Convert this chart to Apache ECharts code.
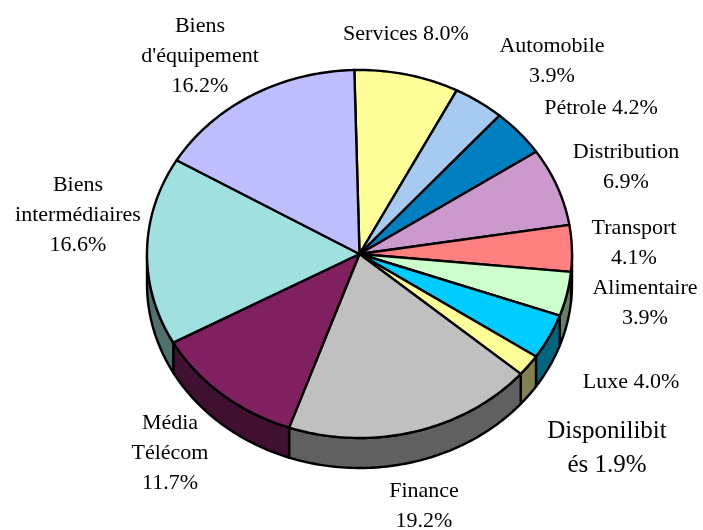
<!DOCTYPE html>
<html>
<head>
<meta charset="utf-8">
<style>
  html, body { margin: 0; padding: 0; background: #fff; }
  #chart { width: 703px; height: 530px; }
</style>
<script src="https://cdn.jsdelivr.net/npm/echarts@6/dist/echarts.min.js"></script>
</head>
<body>
<div id="chart"></div>
<script>
const names = ['Services', 'Automobile', 'Pétrole', 'Distribution', 'Transport', 'Alimentaire', 'Luxe', 'Disponilibités', 'Finance', 'Média Télécom', 'Biens intermédiaires', "Biens d'équipement"]
const values = [8.0, 3.9, 4.2, 6.9, 4.1, 3.9, 4.0, 1.9, 19.2, 11.7, 16.6, 16.2]
const topColors = ['#FFFF99', '#A6CAF0', '#0080C0', '#CC99CC', '#FF8080', '#CCFFCC', '#00CCFF', '#FFFF99', '#C0C0C0', '#802060', '#A0E0E0', '#BFBFFF']
const sideColors = ['#808050', '#536580', '#004060', '#664D66', '#804040', '#668066', '#006680', '#808050', '#606060', '#401030', '#507070', '#606080']
const labelLines = ['Services 8.0%', 'Automobile\n3.9%', 'Pétrole 4.2%', 'Distribution\n6.9%', 'Transport\n4.1%', 'Alimentaire\n3.9%', 'Luxe 4.0%', 'Disponilibit\nés 1.9%', 'Finance\n19.2%', 'Média\nTélécom\n11.7%', 'Biens\nintermédiaires\n16.6%', "Biens\nd'équipement\n16.2%"]

// pie geometry
const cx = 359.5
const cy = 254
const rx = 212.5
const ry = 184
const depth = 30
const startAngle = -1.4

const total = values.reduce((a, b) => a + b, 0)

function sliceRange(index) {
  let before = 0
  for (let i = 0; i < index; i++) before += values[i]
  return [startAngle + before / total * 360, startAngle + (before + values[index]) / total * 360]
}

function rim(deg, dy) {
  const t = deg * Math.PI / 180
  return [cx + rx * Math.sin(t), cy - ry * Math.cos(t) + dy]
}

function arc(from, to, dy) {
  const pts = []
  for (let d = from; d < to; d += 1) pts.push(rim(d, dy))
  pts.push(rim(to, dy))
  return pts
}

const lineStyle = { stroke: '#000', lineWidth: 2.4, lineJoin: 'round' }

function renderTop(params) {
  const [a, b] = sliceRange(params.dataIndex)
  return {
    type: 'polygon',
    shape: { points: [[cx, cy]].concat(arc(a, b, 0)) },
    style: Object.assign({ fill: topColors[params.dataIndex] }, lineStyle)
  }
}

// only the front half of the rim is visible
function renderSide(params) {
  const [a, b] = sliceRange(params.dataIndex)
  const from = Math.max(a, 90)
  const to = Math.min(b, 270)
  if (from >= to) return { type: 'group', children: [] }
  return {
    type: 'polygon',
    shape: { points: arc(from, to, 0).concat(arc(from, to, depth).reverse()) },
    style: Object.assign({ fill: sideColors[params.dataIndex] }, lineStyle)
  }
}

// label anchors, same order as names
const labelPos = [[406, 34], [552, 61], [601, 108], [626, 167], [634, 243], [645, 303], [631, 382], [607, 448], [424, 506], [170, 453], [78, 215], [200, 56]]

const chart = echarts.init(document.getElementById('chart'), null, { renderer: 'canvas' })
chart.setOption({
  animation: false,
  backgroundColor: '#fff',
  series: [
    { type: 'custom', coordinateSystem: 'none', renderItem: renderSide, data: values, silent: true, z: 1 },
    { type: 'custom', coordinateSystem: 'none', renderItem: renderTop, data: values, silent: true, z: 2 }
  ],
  graphic: labelLines.map((text, i) => {
    const big = names[i] === 'Disponilibités'
    return {
      type: 'text',
      x: labelPos[i][0],
      y: labelPos[i][1],
      z: 5,
      style: {
        text: text,
        fill: '#000',
        font: (big ? 25 : 22) + 'px "Liberation Serif"',
        lineHeight: big ? 34 : 30,
        align: 'center',
        verticalAlign: 'middle'
      }
    }
  })
})
</script>
</body>
</html>
